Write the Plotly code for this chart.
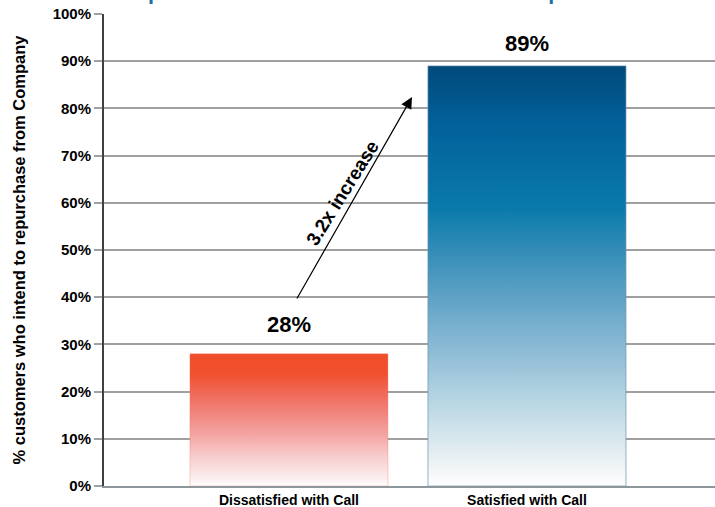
import plotly.graph_objects as go

# ---- data ----
categories = ["Dissatisfied with Call", "Satisfied with Call"]
values = [28, 89]
y_ticks = [0, 10, 20, 30, 40, 50, 60, 70, 80, 90, 100]
y_ticklabels = [f"{v}%" for v in y_ticks]
title_text = "Impact of Call Satisfaction on Intent to Repurchase"
y_title = "% customers who intend to repurchase from Company"

# ---- style ----
FONT = "Arial, Liberation Sans, sans-serif"
bar_width = 0.832
scales = [
    [[0, "#ffffff"], [0.05, "#fcf0f0"], [0.2, "#f8d2d2"], [0.4, "#f3a2a0"],
     [0.65, "#f07266"], [0.85, "#f0502e"], [1, "#f04e2a"]],
    [[0, "#ffffff"], [0.05, "#eef3f5"], [0.2, "#b8d6e4"], [0.345, "#85b7d2"],
     [0.49, "#4f9ac0"], [0.66, "#0a7aab"], [0.86, "#02619a"], [1, "#014a7b"]],
]
outlines = ["rgba(240,120,100,0.35)", "rgba(110,145,170,0.7)"]
label_shift = [29, 22]

fig = go.Figure()
for i, (cat, v) in enumerate(zip(categories, values)):
    x0, x1 = i - bar_width / 2, i + bar_width / 2
    fig.add_trace(go.Scatter(
        x=[x0, x1, x1, x0, x0], y=[0, 0, v, v, 0],
        mode="lines", fill="toself",
        line=dict(color=outlines[i], width=1),
        fillgradient=dict(type="vertical", colorscale=scales[i], start=0, stop=v),
        hoverinfo="skip", showlegend=False,
    ))
    fig.add_annotation(x=i, y=v, xref="x", yref="y", text=f"<b>{v}%</b>",
                       showarrow=False, yshift=label_shift[i],
                       font=dict(family=FONT, size=22, color="#000000"))

# arrow and ratio text
ratio = values[1] / values[0]
fig.add_annotation(x=0.517, y=values[1] - 6.6, ax=0.03, ay=values[0] + 11.4,
                   xref="x", yref="y", axref="x", ayref="y",
                   text="", showarrow=True, arrowhead=2, arrowsize=1.9,
                   arrowwidth=1.2, arrowcolor="#000000")
fig.add_annotation(x=0.223, y=62.0, xref="x", yref="y",
                   text=f"<b>{ratio:.1f}x increase</b>", showarrow=False,
                   textangle=-58, font=dict(family=FONT, size=19, color="#000000"))

# cut-off title
fig.add_annotation(x=0.457, y=1.017, xref="paper", yref="paper",
                   xanchor="center", yanchor="bottom", showarrow=False,
                   text=f"<b>{title_text}</b>",
                   font=dict(family=FONT, size=21.5, color="#1f6fa5"))

fig.update_layout(
    width=715, height=507,
    margin=dict(l=104, r=0, t=14, b=21),
    paper_bgcolor="white", plot_bgcolor="white",
    font=dict(family=FONT, color="#000000"),
    xaxis=dict(range=[-0.777, 1.79], tickvals=[0, 1],
               ticktext=[f"<b>{c}</b>" for c in categories],
               tickfont=dict(size=14), showgrid=False, zeroline=False,
               showline=True, linecolor="#8c969b", linewidth=2, ticks=""),
    yaxis=dict(range=[0, 100], tickvals=y_ticks,
               ticktext=[f"<b>{t}</b>" for t in y_ticklabels],
               tickfont=dict(size=15), showgrid=True, gridcolor="#a0a0a0",
               gridwidth=1.5, zeroline=False, showline=True,
               linecolor="#404040", linewidth=2, ticks="outside", ticklen=8,
               tickcolor="#a0a0a0", tickwidth=1.5,
               title=dict(text=f"<b>{y_title}</b>", font=dict(size=16.5),
                          standoff=23)),
)

fig.write_html("out.html")
